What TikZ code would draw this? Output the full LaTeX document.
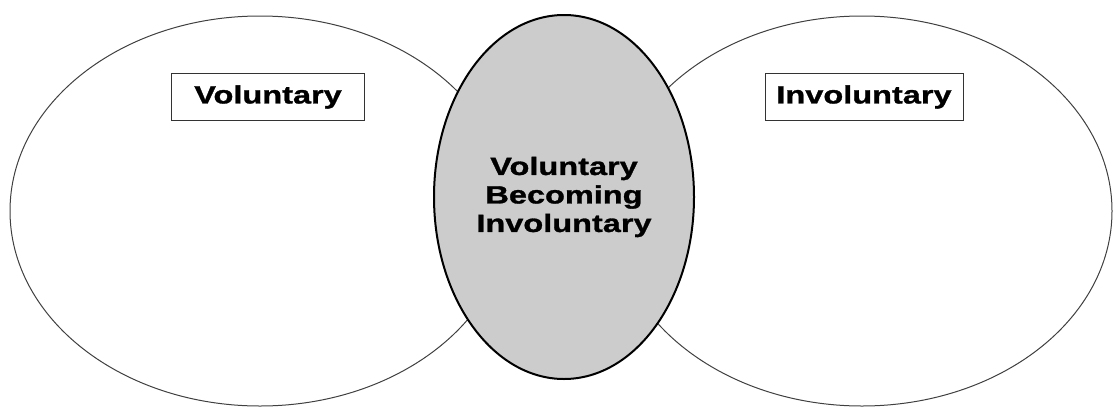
\documentclass[tikz,border=0pt]{standalone}
\usepackage{fontspec}
\newfontfamily\vennfont[FakeStretch=1.3,BoldFeatures={FakeBold=1.2}]{Liberation Sans}
\usetikzlibrary{shapes.geometric}

\begin{document}
\begin{tikzpicture}[x=1pt,y=-1pt,font=\vennfont\bfseries\fontsize{25}{28.5}\selectfont]
  \useasboundingbox (0,0) rectangle (1113,407);

  % the two outer sets
  \begin{scope}[every node/.style={ellipse,draw=black!75,line width=1pt,inner sep=0pt,
      minimum width=500pt,minimum height=390pt}]
    \node (vol)   at (260,211) {};
    \node (invol) at (862,211) {};
  \end{scope}

  % overlap in the middle
  \node[ellipse,draw,line width=2pt,fill=gray!40,inner sep=0pt,align=center,
    minimum width=260pt,minimum height=364pt] (mid) at (564,197)
    {Voluntary\\Becoming\\Involuntary};

  \begin{scope}[every node/.style={draw=black!80,line width=0.8pt,minimum height=47pt,inner sep=0pt}]
    \node[minimum width=193pt] (vlab) at (268,97) {Voluntary};
    \node[minimum width=198pt] (ilab) at (864,97) {Involuntary};
  \end{scope}

\end{tikzpicture}
\end{document}
